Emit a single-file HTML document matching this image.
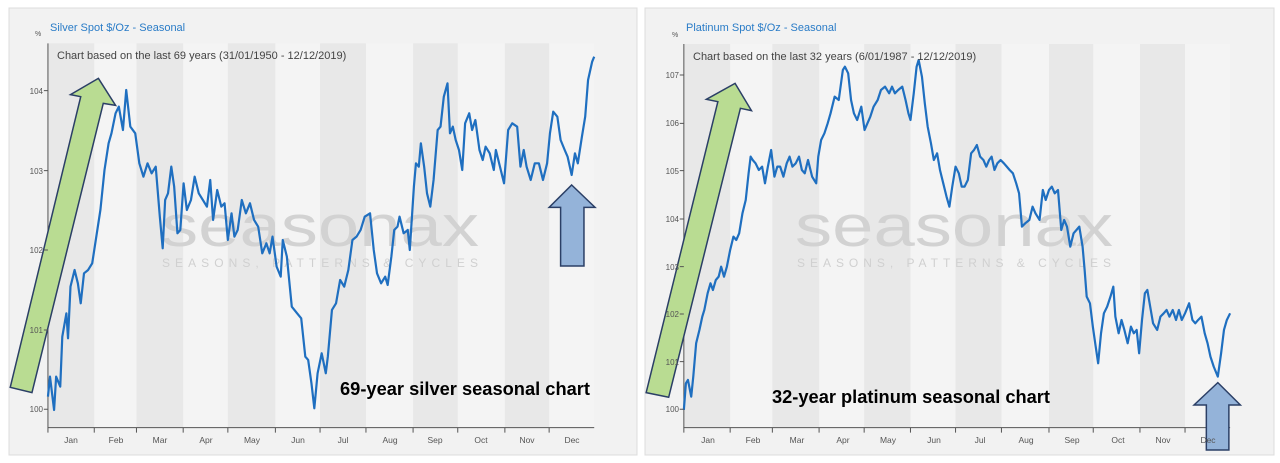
<!DOCTYPE html>
<html><head><meta charset="utf-8"><style>
html,body{margin:0;padding:0;background:#fff;width:1280px;height:463px;overflow:hidden}
svg{display:block}
text{font-family:"Liberation Sans",sans-serif}
</style></head><body>
<svg width="1280" height="463" viewBox="0 0 1280 463" xmlns="http://www.w3.org/2000/svg">
<rect x="0" y="0" width="1280" height="463" fill="#fff"/>
<!-- LEFT PANEL -->
<rect x="9" y="8" width="628" height="447" fill="#f2f2f2" stroke="#dcdcdc"/>
<g transform="scale(0.4098,0.3333)">
  <rect x="117" y="130" width="1333" height="1153" fill="#f4f4f4"/>
  <rect x="117" y="130" width="113" height="1153" fill="#e8e8e8"/>
  <rect x="333" y="130" width="114" height="1153" fill="#e8e8e8"/>
  <rect x="556" y="130" width="116" height="1153" fill="#e8e8e8"/>
  <rect x="781" y="130" width="112" height="1153" fill="#e8e8e8"/>
  <rect x="1008" y="130" width="109" height="1153" fill="#e8e8e8"/>
  <rect x="1232" y="130" width="108" height="1153" fill="#e8e8e8"/>
</g>
<text x="320" y="246" font-size="58" fill="#d2d2d2" text-anchor="middle" textLength="318" lengthAdjust="spacingAndGlyphs">seasonax</text>
<text x="320" y="267" font-size="12" fill="#d0d0d0" text-anchor="middle" textLength="316" lengthAdjust="spacing">SEASONS, PATTERNS &amp; CYCLES</text>
<g transform="scale(0.4098,0.3333)" fill="none">
  <polyline vector-effect="non-scaling-stroke" stroke="#555" stroke-width="1" points="117,130 117,1283 1450,1283"/>
  <polyline vector-effect="non-scaling-stroke" stroke="#1f6fc0" stroke-width="2.2" stroke-linejoin="round" points="117,1190 122,1130 132,1230 137,1130 147,1160 152,1010 162,940 166,1015 172,860 182,810 190,850 197,910 205,820 215,810 225,790 235,710 245,630 255,510 265,430 272,400 282,340 290,320 300,390 308,270 318,380 330,400 340,490 350,530 360,490 370,520 380,500 390,650 397,745 403,600 410,580 418,500 425,560 433,700 440,690 448,550 456,630 466,600 475,530 485,580 495,600 505,620 513,540 520,660 530,570 540,620 548,610 556,720 565,640 572,710 580,690 590,600 600,640 610,610 620,660 630,680 640,760 650,730 658,760 665,710 675,800 685,830 690,720 700,770 712,920 725,940 735,955 745,1070 752,1080 760,1150 767,1225 775,1120 785,1060 795,1120 800,1070 810,930 820,910 830,840 840,860 850,810 860,720 870,710 880,690 890,650 903,640 912,750 920,820 930,850 940,830 946,855 955,770 962,690 970,680 975,650 985,700 995,690 1000,750 1010,560 1015,490 1022,500 1027,430 1035,500 1042,580 1050,620 1058,540 1068,390 1075,380 1083,290 1092,250 1098,400 1105,380 1112,420 1120,450 1128,510 1135,370 1145,340 1152,390 1160,360 1170,450 1178,480 1185,440 1195,460 1205,510 1210,450 1220,500 1230,550 1240,390 1250,370 1262,380 1270,500 1278,450 1285,500 1295,540 1305,490 1315,490 1325,540 1335,490 1342,400 1350,335 1360,350 1368,420 1378,450 1385,470 1395,525 1403,460 1410,490 1420,410 1428,350 1435,240 1445,185 1450,170"/>
  <polygon vector-effect="non-scaling-stroke" fill="#b9dc92" stroke="#2b3f66" stroke-width="1.5" points="240,235 282,316 252,310 78,1178 25,1162 197,290 172,284"/>
  <polygon vector-effect="non-scaling-stroke" fill="#94b3d9" stroke="#2b3f66" stroke-width="1.5" points="1395,555 1452,622 1425,622 1425,798 1368,798 1368,622 1340,622"/>
  <path vector-effect="non-scaling-stroke" stroke="#555" d="M117,1283v15M230,1283v15M333,1283v15M447,1283v15M556,1283v15M672,1283v15M781,1283v15M893,1283v15M1008,1283v15M1117,1283v15M1232,1283v15M1340,1283v15M107,272h10M107,512h10M107,750h10M107,990h10M107,1228h10"/>
</g>
<text x="50" y="31" font-size="11" fill="#2a7cc7">Silver Spot  $/Oz - Seasonal</text>
<text x="35" y="36" font-size="7" fill="#555">%</text>
<text x="57" y="59" font-size="11" fill="#444">Chart based on the last 69 years (31/01/1950 - 12/12/2019)</text>
<g font-size="8" fill="#555" text-anchor="end">
<text x="43" y="94">104</text><text x="43" y="174">103</text><text x="43" y="253">102</text><text x="43" y="333">101</text><text x="43" y="412">100</text>
</g>
<g font-size="8.5" fill="#555" text-anchor="middle">
<text x="71" y="443">Jan</text><text x="116" y="443">Feb</text><text x="160" y="443">Mar</text><text x="206" y="443">Apr</text><text x="252" y="443">May</text><text x="298" y="443">Jun</text><text x="343" y="443">Jul</text><text x="390" y="443">Aug</text><text x="435" y="443">Sep</text><text x="481" y="443">Oct</text><text x="527" y="443">Nov</text><text x="572" y="443">Dec</text>
</g>
<text x="340" y="395" font-size="18" font-weight="bold" fill="#000" textLength="250" lengthAdjust="spacingAndGlyphs">69-year silver seasonal chart</text>

<!-- RIGHT PANEL -->
<rect x="645" y="8" width="629" height="447" fill="#f2f2f2" stroke="#dcdcdc"/>
<g transform="translate(640,0) scale(0.4098,0.3333)">
  <rect x="107" y="132" width="1333" height="1151" fill="#f4f4f4"/>
  <rect x="107" y="132" width="113" height="1151" fill="#e8e8e8"/>
  <rect x="323" y="132" width="114" height="1151" fill="#e8e8e8"/>
  <rect x="547" y="132" width="113" height="1151" fill="#e8e8e8"/>
  <rect x="770" y="132" width="112" height="1151" fill="#e8e8e8"/>
  <rect x="998" y="132" width="108" height="1151" fill="#e8e8e8"/>
  <rect x="1220" y="132" width="110" height="1151" fill="#e8e8e8"/>
</g>
<text x="954" y="246" font-size="58" fill="#d2d2d2" text-anchor="middle" textLength="318" lengthAdjust="spacingAndGlyphs">seasonax</text>
<text x="954" y="267" font-size="12" fill="#d0d0d0" text-anchor="middle" textLength="314" lengthAdjust="spacing">SEASONS, PATTERNS &amp; CYCLES</text>
<g transform="translate(640,0) scale(0.4098,0.3333)" fill="none">
  <polyline vector-effect="non-scaling-stroke" stroke="#555" stroke-width="1" points="107,132 107,1283 1440,1283"/>
  <polyline vector-effect="non-scaling-stroke" stroke="#1f6fc0" stroke-width="2.2" stroke-linejoin="round" points="107,1230 112,1150 117,1140 125,1190 130,1130 137,1030 145,990 152,950 157,930 165,880 172,850 178,870 185,840 192,830 198,800 205,830 212,800 220,750 228,710 235,720 242,700 250,640 258,600 265,520 270,470 275,480 282,490 290,510 298,500 305,550 312,500 320,450 328,530 335,500 342,500 350,530 358,490 365,470 372,500 380,490 388,470 395,510 402,520 410,480 420,530 430,550 435,470 442,420 450,400 458,370 465,340 475,290 485,300 495,210 500,200 508,220 515,300 522,340 530,360 540,320 548,390 555,370 562,350 570,320 580,300 588,270 598,260 608,280 615,260 622,280 630,270 640,260 648,300 655,340 660,360 668,280 675,200 680,180 688,230 695,310 702,380 710,430 717,480 725,460 732,510 740,550 748,590 755,620 762,560 770,500 778,520 785,560 792,560 800,540 808,460 815,450 822,435 830,470 838,480 845,500 852,480 858,470 865,510 872,490 880,480 888,490 895,500 902,510 910,520 918,550 925,580 932,680 940,670 950,660 958,620 965,640 975,660 983,570 990,600 998,570 1005,560 1012,580 1020,570 1028,690 1035,660 1042,680 1050,740 1058,700 1065,690 1072,680 1080,740 1085,810 1090,890 1098,910 1105,980 1112,1040 1118,1090 1125,1000 1132,940 1140,920 1148,890 1155,860 1160,950 1168,1000 1175,960 1182,990 1190,1030 1198,980 1205,1000 1212,990 1218,1060 1225,960 1232,880 1238,870 1245,920 1252,970 1262,990 1270,950 1278,940 1285,930 1292,950 1300,930 1308,960 1315,930 1322,960 1330,940 1340,910 1348,960 1355,970 1362,960 1370,950 1378,1000 1385,1030 1392,1070 1400,1100 1410,1130 1418,1060 1425,990 1432,960 1440,940"/>
  <polygon vector-effect="non-scaling-stroke" fill="#b9dc92" stroke="#2b3f66" stroke-width="1.5" points="232,250 272,332 245,325 70,1192 15,1178 190,305 162,298"/>
  <polygon vector-effect="non-scaling-stroke" fill="#94b3d9" stroke="#2b3f66" stroke-width="1.5" points="1410,1148 1465,1215 1437,1215 1437,1350 1382,1350 1382,1215 1352,1215"/>
  <path vector-effect="non-scaling-stroke" stroke="#555" d="M107,1283v15M220,1283v15M323,1283v15M437,1283v15M547,1283v15M660,1283v15M770,1283v15M882,1283v15M998,1283v15M1106,1283v15M1220,1283v15M1330,1283v15M97,225h10M97,370h10M97,512h10M97,657h10M97,800h10M97,942h10M97,1085h10M97,1228h10"/>
</g>
<text x="686" y="31" font-size="11" fill="#2a7cc7">Platinum Spot  $/Oz - Seasonal</text>
<text x="672" y="37" font-size="7" fill="#555">%</text>
<text x="693" y="60" font-size="11" fill="#444">Chart based on the last 32 years (6/01/1987 - 12/12/2019)</text>
<g font-size="8" fill="#555" text-anchor="end">
<text x="679" y="78">107</text><text x="679" y="126">106</text><text x="679" y="174">105</text><text x="679" y="222">104</text><text x="679" y="270">103</text><text x="679" y="317">102</text><text x="679" y="365">101</text><text x="679" y="412">100</text>
</g>
<g font-size="8.5" fill="#555" text-anchor="middle">
<text x="708" y="443">Jan</text><text x="753" y="443">Feb</text><text x="797" y="443">Mar</text><text x="843" y="443">Apr</text><text x="888" y="443">May</text><text x="934" y="443">Jun</text><text x="980" y="443">Jul</text><text x="1026" y="443">Aug</text><text x="1072" y="443">Sep</text><text x="1118" y="443">Oct</text><text x="1163" y="443">Nov</text><text x="1208" y="443">Dec</text>
</g>
<text x="772" y="403" font-size="18" font-weight="bold" fill="#000" textLength="278" lengthAdjust="spacingAndGlyphs">32-year platinum seasonal chart</text>
</svg>
</body></html>
